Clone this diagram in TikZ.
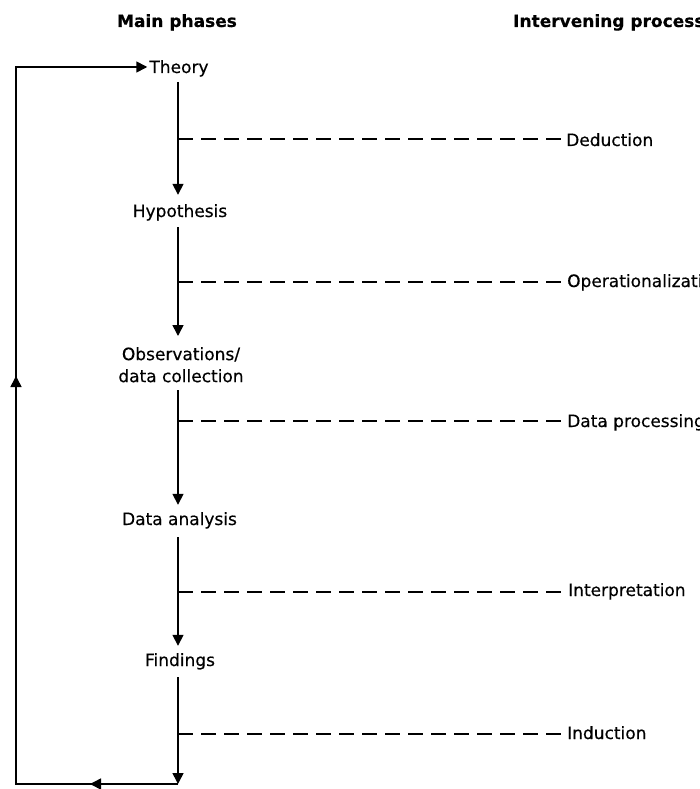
\documentclass[tikz,border=0pt]{standalone}
\usepackage{fontspec}
\setmainfont{DejaVu Sans}[FakeBold=0.4]
\usetikzlibrary{arrows.meta,decorations.markings}
\begin{document}
\begin{tikzpicture}[x=1pt,y=-1pt,
  tip/.style={-{Triangle[length=11pt,width=11pt]}},
  flow/.style={line width=1.6pt,tip},
  phase/.style={font=\fontsize{17}{22}\selectfont,inner sep=0pt,
    text height=12pt,text depth=0pt,anchor=base},
  process/.style={font=\fontsize{17}{22}\selectfont,inner sep=0pt,
    text height=12pt,text depth=0pt,anchor=base west},
  heading/.style={font=\fontsize{17}{22}\selectfont\bfseries,inner sep=0pt,anchor=base},
  link/.style={line width=1.3pt,dash pattern=on 15pt off 8pt},
  loop/.style={line width=1.6pt,
    postaction={decorate},
    decoration={markings,
      mark=at position 88pt with {\arrow{Triangle[length=11pt,width=11pt]}},
      mark=at position 570pt with {\arrow{Triangle[length=11pt,width=11pt]}}}}
]
\useasboundingbox (0,0) rectangle (700,789);

% column headings
\node[heading] (hmain) at (177,27) {Main phases};
\node[heading,anchor=base west] (hproc) at (513,27) {Intervening processes};

% main phases
\node[phase] (theory) at (179,73) {Theory};
\node[phase] (hyp) at (180,217) {Hypothesis};
\node[font=\fontsize{17}{22}\selectfont,inner sep=0pt,align=center,anchor=north]
  (obs) at (181,347) {Observations/\\data collection};
\node[phase] (ana) at (179.5,525) {Data analysis};
\node[phase] (find) at (180,666) {Findings};

% intervening processes
\node[process] (ded) at (566,146) {Deduction};
\node[process] (oper) at (567,287) {Operationalization};
\node[process] (proc) at (567,427) {Data processing};
\node[process] (interp) at (568,596) {Interpretation};
\node[process] (ind) at (567,739) {Induction};

% feedback loop corners
\coordinate (bot) at (178,784);
\coordinate (botleft) at (16,784);
\coordinate (topleft) at (16,67);

% flow between phases
\coordinate (v1) at (178,82);
\coordinate (v2) at (178,227);
\coordinate (v3) at (178,390);
\coordinate (v4) at (178,537);
\coordinate (v5) at (178,677);
\draw[flow] (v1) -- ([yshift=10pt]v1 |- hyp.north);
\draw[flow] (v2) -- ([yshift=11pt]v2 |- obs.north);
\draw[flow] (v3) -- ([yshift=8pt]v3 |- ana.north);
\draw[flow] (v4) -- ([yshift=8pt]v4 |- find.north);
\draw[flow] (v5) -- (bot);

% links to intervening processes
\draw[link] (178,139) -- ([xshift=-4pt,yshift=7pt]ded.base west);
\draw[link] (178,282) -- ([xshift=-4pt,yshift=5pt]oper.base west);
\draw[link] (178,421) -- ([xshift=-4pt,yshift=6pt]proc.base west);
\draw[link] (178,592) -- ([xshift=-4pt,yshift=4pt]interp.base west);
\draw[link] (178,734) -- ([xshift=-3pt,yshift=5pt]ind.base west);

% feedback from findings back to theory
\draw[loop,tip] (bot) -- (botleft) -- (topleft) -- ([xshift=-2pt]theory.west);
\end{tikzpicture}
\end{document}
